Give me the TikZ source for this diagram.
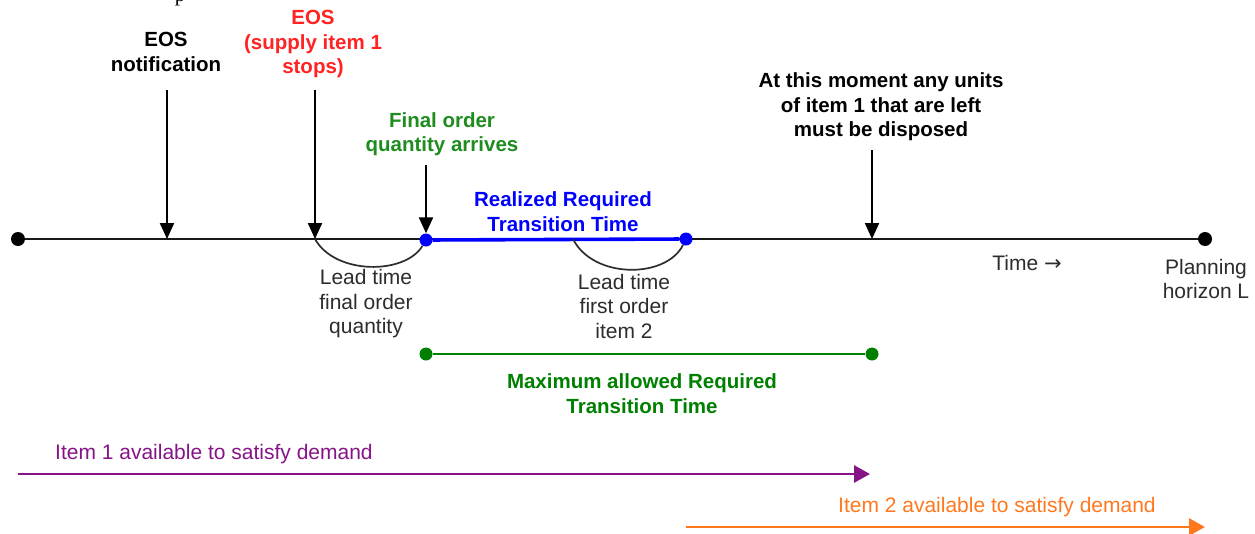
\documentclass[tikz,border=0pt]{standalone}
\usepackage{fontspec}
\setmainfont{Liberation Sans}
\newfontfamily\seriffont{Liberation Serif}
\newfontfamily\symfont{DejaVu Sans}
\usetikzlibrary{arrows.meta}

\definecolor{eosred}{RGB}{255,35,35}
\definecolor{fingreen}{RGB}{30,140,30}
\definecolor{maxgreen}{RGB}{0,128,0}
\definecolor{realblue}{RGB}{0,0,255}
\definecolor{itemone}{RGB}{135,20,135}
\definecolor{itemtwo}{RGB}{255,120,30}
\definecolor{notegray}{RGB}{45,45,45}
\definecolor{axisgray}{RGB}{25,25,25}

\begin{document}
\begin{tikzpicture}[x=1pt,y=-1pt,
  every node/.style={inner sep=0pt, font=\fontsize{21}{24.5}\selectfont},
  lbl/.style={align=center, font=\fontsize{20.5}{24.5}\selectfont\bfseries},
  note/.style={align=center, text=notegray},
  enddot/.style={circle, fill=black, minimum size=14pt},
  bluedot/.style={circle, fill=realblue, minimum size=13pt},
  greendot/.style={circle, fill=maxgreen, minimum size=13pt},
  marker/.style={draw=black, line width=2.2pt, -{Triangle[length=16pt,width=14pt]}},
  leadarc/.style={draw=notegray, line width=1.7pt},
  avail/.style={line width=2.8pt, -{Triangle[length=16pt,width=17pt]}},
]
\useasboundingbox (0,0) rectangle (1255,533);
\fill[white] (0,0) rectangle (1255,533);

% fragment of the caption line above
\node[anchor=base, font=\seriffont\fontsize{21}{24}\selectfont] (capfrag) at (180,1) {p};

% time axis
\node[enddot] (t0) at (18,239) {};
\node[enddot] (tL) at (1205,239) {};
\draw[axisgray, line width=2.8pt] (t0) -- (tL);

% points on the axis
\coordinate (eosn) at (167,239);
\coordinate (eos) at (315,239);
\coordinate (disp) at (872,239);
\coordinate (lt2) at (573,239);
\node[bluedot] (fin) at (426,240) {};
\node[bluedot] (real) at (686,239) {};
\draw[realblue, line width=3.6pt] (fin) -- (real);

% labels above the axis with their markers
\node[lbl] (eosnlbl) at (166,52) {EOS\\notification};
\coordinate (eosntop) at (167,90);
\draw[marker] (eosntop) -- (eosn);

\node[lbl, text=eosred] (eoslbl) at (313,44) {EOS\\(supply item 1\\stops)};
\coordinate (eostop) at (315,90);
\draw[marker] (eostop) -- (eos);

\node[lbl, text=fingreen] (finlbl) at (442,134) {Final order\\quantity arrives};
\coordinate (fintop) at (426,165);
\draw[marker] (fintop) -- (fin);

\node[lbl, text=realblue] (reallbl) at (563,211.5) {Realized Required\\Transition Time};

\node[lbl, text=black] (displbl) at (881,107) {At this moment any units\\of item 1 that are left\\must be disposed};
\coordinate (disptop) at (872,150);
\draw[marker] (disptop) -- (disp);

% lead times below the axis
\draw[leadarc] (eos) .. controls (335,275) and (405,275) .. (fin);
\node[note] (lt1lbl) at (366,304) {Lead time\\final order\\quantity};
\draw[leadarc] (lt2) .. controls (593,279) and (666,279) .. (real);
\node[note] (lt2lbl) at (624,306) {Lead time\\first order\\item 2};

\node[note] (timelbl) at (1027,263) {Time {\symfont →}};
\node[note] (horlbl) at (1206,279) {Planning\\horizon L};

% maximum allowed transition time
\node[greendot] (g0) at (426,354) {};
\node[greendot] (g1) at (872,354) {};
\draw[maxgreen, line width=2.8pt] (g0) -- (g1);
\node[lbl, text=maxgreen] (maxlbl) at (642,393.5) {Maximum allowed Required\\Transition Time};

% availability of both items
\coordinate (a0) at (18,474);
\coordinate (a1) at (870,474);
\draw[avail, itemone] (a0) -- (a1);
\node[anchor=west, text=itemone] (a1lbl) at (55,454) {Item 1 available to satisfy demand};

\coordinate (b0) at (686,527);
\coordinate (b1) at (1205,527);
\draw[avail, itemtwo] (b0) -- (b1);
\node[anchor=west, text=itemtwo] (b1lbl) at (838,507) {Item 2 available to satisfy demand};
\end{tikzpicture}
\end{document}
